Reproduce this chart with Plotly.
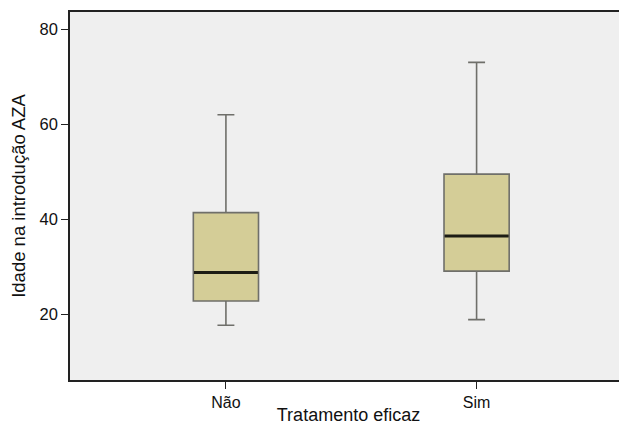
import plotly.graph_objects as go

categories = ["Não", "Sim"]
lower_whisker = [17.7, 18.9]
q1_values = [22.8, 29.1]
medians = [28.8, 36.5]
q3_values = [41.4, 49.5]
upper_whisker = [62.0, 73.0]
y_ticks = [20, 40, 60, 80]

FONT = "Liberation Sans, Arial, sans-serif"

fig = go.Figure()
fig.add_trace(go.Box(
    x=categories,
    q1=q1_values, median=medians, q3=q3_values,
    lowerfence=lower_whisker, upperfence=upper_whisker,
    fillcolor="#d4cd97",
    line=dict(color="#6f6f6a", width=1.6),
    width=0.26, whiskerwidth=0.26,
    boxpoints=False, showlegend=False,
))
# median line overlay (thick dark)
fig.add_trace(go.Box(
    x=categories,
    q1=medians, median=medians, q3=medians,
    lowerfence=medians, upperfence=medians,
    fillcolor="rgba(0,0,0,0)",
    line=dict(color="#1c1c14", width=3),
    width=0.255, whiskerwidth=0,
    boxpoints=False, showlegend=False, hoverinfo="skip",
))

fig.update_layout(
    width=619, height=417,
    margin=dict(l=62, r=0, t=4, b=45, autoexpand=False),
    paper_bgcolor="white",
    plot_bgcolor="#efefef",
    boxmode="overlay",
    font=dict(family=FONT, size=16, color="#111"),
    xaxis=dict(
        type="category",
        range=[-0.622, 1.6],
        showline=True, linecolor="#222", linewidth=1.5, mirror=True,
        ticks="outside", ticklen=7, tickcolor="#222", tickwidth=1.2,
        showgrid=False, zeroline=False,
        tickfont=dict(size=16),
        title=dict(text="Tratamento eficaz", font=dict(size=18), standoff=7),
        automargin=False,
    ),
    yaxis=dict(
        range=[6.2, 83.6],
        tickvals=y_ticks,
        showline=True, linecolor="#222", linewidth=1.5,
        ticks="outside", ticklen=7, tickcolor="#222", tickwidth=1.2,
        showgrid=False, zeroline=False,
        tickfont=dict(size=16.5),
        title=dict(text="Idade na introdução AZA", font=dict(size=18.5), standoff=10),
        automargin=False,
    ),
)

fig.write_html("out.html")
